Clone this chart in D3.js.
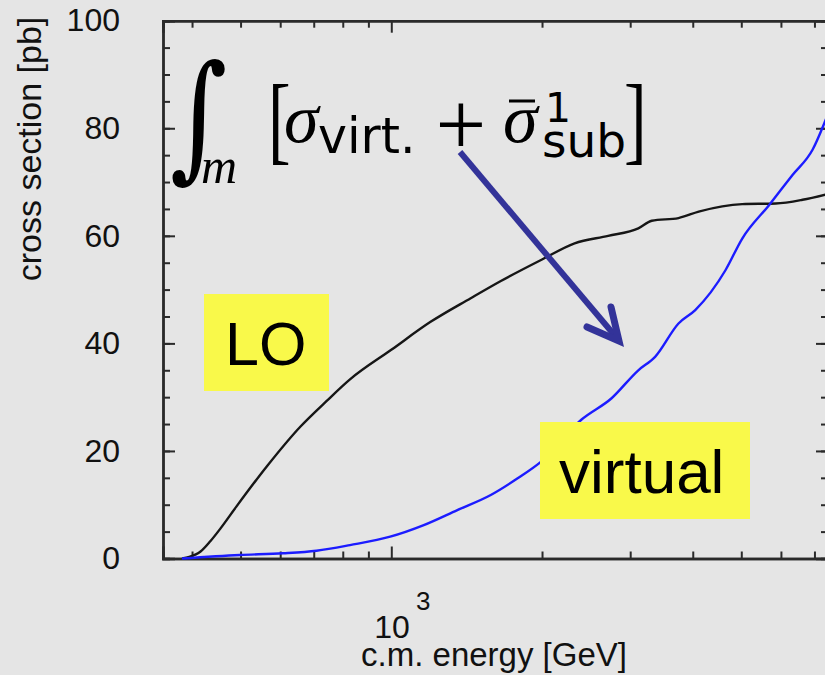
<!DOCTYPE html>
<html>
<head>
<meta charset="utf-8">
<script src="https://cdn.jsdelivr.net/npm/d3@7"></script>
<style>
  html, body { margin: 0; padding: 0; background: #e5e5e5; overflow: hidden; }
  svg { display: block; }
</style>
</head>
<body>
<script>
// LO curve (GeV, pb)
const loEnergy = [382, 395, 416, 435, 456, 490, 565, 658, 743, 827, 1000, 1198, 1441, 1655, 2000, 2323, 2711, 3114, 3313, 3746, 4111, 5022, 5857, 6627, 7381];
const loSigma  = [0, 0.3, 1.3, 3.2, 5.6, 9.6, 17.2, 24.5, 29.3, 33.3, 38.8, 44.0, 48.4, 51.6, 55.6, 58.6, 60.0, 61.4, 62.8, 63.3, 64.5, 65.9, 66.0, 66.7, 67.7];

// virtual curve
const virtEnergy = [382, 498, 608, 709, 827, 995, 1161, 1355, 1580, 1788, 1992, 2396, 2754, 3114, 3364, 3746, 4046, 4649, 5022, 5680, 6328, 6939, 7439];
const virtSigma  = [0, 0.65, 0.97, 1.45, 2.5, 4.05, 6.2, 9.0, 11.8, 14.9, 18.0, 25.8, 29.8, 35.0, 37.5, 43.7, 46.2, 53.6, 59.5, 65.7, 71.3, 76.0, 82.5];

const yMajorTicks = [0, 20, 40, 60, 80, 100];
const yMinorTicks = d3.range(0, 101, 5);
const xMajorTicks = [1000];
const xMinorTicks = [400, 500, 600, 700, 800, 900, 2000, 3000, 4000, 5000, 6000, 7000];

const W = 825, H = 675;
const svg = d3.select("body").append("svg")
    .attr("width", W)
    .attr("height", H)
    .style("background", "#e5e5e5");

const x = d3.scaleLog().domain([350, 7450]).range([163, 828]);
const y = d3.scaleLinear().domain([0, 100]).range([558.5, 20.7]);

const axisColor = "#2a2a2a";
const labelFont = "Liberation Sans, Arial, sans-serif";

function styleAxis(g) {
    g.select(".domain").attr("stroke", axisColor).attr("stroke-width", 2.4);
    g.selectAll(".tick line").attr("stroke", axisColor).attr("stroke-width", 2);
    g.selectAll(".tick text").attr("fill", "#111").style("font", "32px " + labelFont);
}

// left axis
svg.append("g").attr("transform", "translate(163,0)")
    .call(d3.axisLeft(y).tickValues(yMinorTicks).tickSize(-7).tickFormat(""))
    .call(styleAxis);
svg.append("g").attr("transform", "translate(163,0)")
    .call(d3.axisLeft(y).tickValues(yMajorTicks).tickSize(-12).tickPadding(43).tickFormat(d3.format("d")))
    .call(styleAxis);
// right axis
svg.append("g").attr("transform", "translate(828,0)")
    .call(d3.axisRight(y).tickValues(yMinorTicks).tickSize(-7).tickFormat(""))
    .call(styleAxis);
svg.append("g").attr("transform", "translate(828,0)")
    .call(d3.axisRight(y).tickValues(yMajorTicks).tickSize(-12).tickFormat(""))
    .call(styleAxis);
// bottom axis
svg.append("g").attr("transform", `translate(0,${y(0)})`)
    .call(d3.axisBottom(x).tickValues(xMinorTicks).tickSize(-7).tickFormat(""))
    .call(styleAxis);
svg.append("g").attr("transform", `translate(0,${y(0)})`)
    .call(d3.axisBottom(x).tickValues(xMajorTicks).tickSize(-12).tickFormat(""))
    .call(styleAxis);
// top axis
svg.append("g").attr("transform", `translate(0,${y(100)})`)
    .call(d3.axisTop(x).tickValues(xMinorTicks).tickSize(-7).tickFormat(""))
    .call(styleAxis);
svg.append("g").attr("transform", `translate(0,${y(100)})`)
    .call(d3.axisTop(x).tickValues(xMajorTicks).tickSize(-12).tickFormat(""))
    .call(styleAxis);

// 10^3 label
const xl = svg.append("text")
    .attr("x", x(1000) - 17)
    .attr("y", 638)
    .attr("fill", "#111")
    .style("font", "32px " + labelFont);
xl.append("tspan").text("10");
xl.append("tspan").attr("dx", 6).attr("dy", -28).style("font-size", "26px").text("3");

// axis titles
svg.append("text")
    .attr("x", 494).attr("y", 666)
    .attr("text-anchor", "middle")
    .attr("fill", "#111")
    .style("font", "33px " + labelFont)
    .text("c.m. energy [GeV]");
svg.append("text")
    .attr("transform", "translate(41,149) rotate(-90)")
    .attr("text-anchor", "middle")
    .attr("fill", "#111")
    .style("font", "34px " + labelFont)
    .text("cross section [pb]");

// curves
const line = d3.line()
    .x(d => x(d[0]))
    .y(d => y(d[1]))
    .curve(d3.curveMonotoneX);

svg.append("path")
    .datum(d3.zip(loEnergy, loSigma))
    .attr("fill", "none")
    .attr("stroke", "#161616")
    .attr("stroke-width", 2.4)
    .attr("d", line);

svg.append("path")
    .datum(d3.zip(virtEnergy, virtSigma))
    .attr("fill", "none")
    .attr("stroke", "#1c1cff")
    .attr("stroke-width", 2.4)
    .attr("d", line);

// yellow labels
const yellow = "#f9f94a";
svg.append("rect").attr("x", 204).attr("y", 294).attr("width", 125).attr("height", 97).attr("fill", yellow);
svg.append("text").attr("x", 225).attr("y", 365)
    .attr("fill", "#000").style("font", "61px " + labelFont).text("LO");
svg.append("rect").attr("x", 540).attr("y", 422).attr("width", 210).attr("height", 97).attr("fill", yellow);
svg.append("text").attr("x", 559).attr("y", 493)
    .attr("fill", "#000").style("font", "62px " + labelFont).text("virtual");

// formula
const serif = "DejaVu Serif, Liberation Serif, serif";
const sans = "DejaVu Sans, sans-serif";
const f = svg.append("g").attr("fill", "#000");
f.append("text").attr("transform", "translate(170,163) scale(1,1.25)")
    .style("font", "italic 110px " + serif).text("∫");
f.append("text").attr("x", 201).attr("y", 183).style("font", "italic 50px Liberation Serif, serif").text("m");
f.append("text").attr("transform", "translate(268,152) scale(0.85,1.22)")
    .style("font", "80px Liberation Serif, serif").text("[");
f.append("text").attr("x", 284).attr("y", 142).style("font", "italic 70px Liberation Serif, serif").text("σ");
f.append("text").attr("x", 318).attr("y", 153).style("font", "49px " + sans).text("virt.");
f.append("text").attr("x", 461).attr("y", 155).attr("text-anchor", "middle").style("font", "90px Liberation Serif, serif").text("+");
f.append("text").attr("x", 503).attr("y", 142).style("font", "italic 70px Liberation Serif, serif").text("σ");
f.append("line").attr("x1", 509).attr("x2", 535).attr("y1", 101).attr("y2", 101).attr("stroke", "#000").attr("stroke-width", 3);
f.append("text").attr("x", 545).attr("y", 122).style("font", "41px " + sans).text("1");
f.append("text").attr("x", 542).attr("y", 157).style("font", "47px " + sans).text("sub");
f.append("text").attr("transform", "translate(624,152) scale(0.85,1.22)")
    .style("font", "80px Liberation Serif, serif").text("]");

// arrow
const arrowColor = "#333399";
svg.append("line")
    .attr("x1", 460).attr("y1", 152).attr("x2", 616).attr("y2", 337)
    .attr("stroke", arrowColor).attr("stroke-width", 6);
svg.append("polyline")
    .attr("points", "587,327 619,341 611,307")
    .attr("fill", "none").attr("stroke", arrowColor).attr("stroke-width", 7)
    .attr("stroke-linejoin", "miter").attr("stroke-linecap", "round");
</script>
</body>
</html>
